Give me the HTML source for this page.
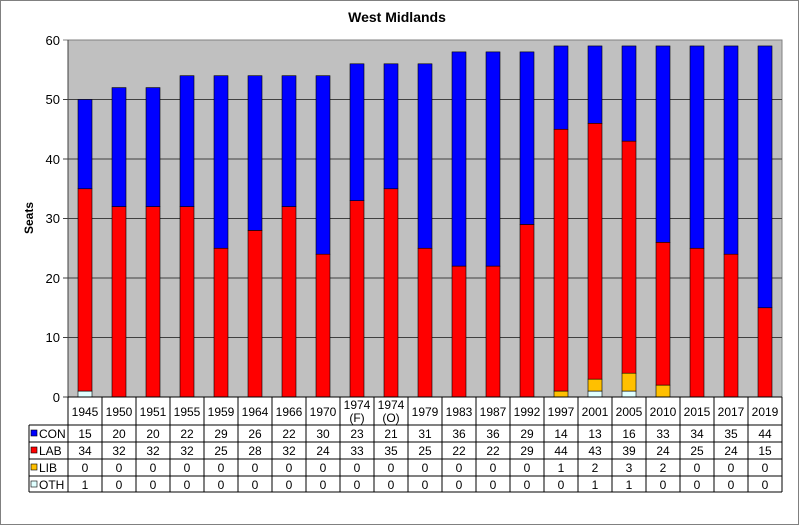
<!DOCTYPE html><html><head><style>body{margin:0;background:#fff}svg{display:block;font-family:"Liberation Sans",Arial,sans-serif}</style></head><body>
<svg width="800" height="527" viewBox="0 0 800 527">
<rect x="0.5" y="0.5" width="798" height="524" fill="#fff" stroke="#808080"/>
<text x="397" y="22" font-size="14" font-weight="bold" text-anchor="middle">West Midlands</text>
<text transform="translate(33,218) rotate(-90)" font-size="12" font-weight="bold" text-anchor="middle">Seats</text>
<rect x="68" y="40" width="714" height="357" fill="#c0c0c0" stroke="#808080"/>
<g stroke="#404040" stroke-width="1">
<line x1="63" y1="40" x2="782" y2="40" stroke="#808080"/><line x1="63" y1="99.5" x2="782" y2="99.5"/><line x1="63" y1="159" x2="782" y2="159"/><line x1="63" y1="218.5" x2="782" y2="218.5"/><line x1="63" y1="278" x2="782" y2="278"/><line x1="63" y1="337.5" x2="782" y2="337.5"/><line x1="63" y1="397" x2="68" y2="397"/><line x1="68" y1="40" x2="68" y2="397"/></g>
<g font-size="13" text-anchor="end"><text x="60" y="45">60</text><text x="60" y="104">50</text><text x="60" y="164">40</text><text x="60" y="223">30</text><text x="60" y="283">20</text><text x="60" y="342">10</text><text x="60" y="402">0</text></g>
<g stroke="#000" stroke-width="0.6">
<g fill="#e0ffff"><rect x="78" y="391.05" width="14" height="5.95"/><rect x="588" y="391.05" width="14" height="5.95"/><rect x="622" y="391.05" width="14" height="5.95"/></g>
<g fill="#ffc000"><rect x="554" y="391.05" width="14" height="5.95"/><rect x="588" y="379.15" width="14" height="11.9"/><rect x="622" y="373.2" width="14" height="17.85"/><rect x="656" y="385.1" width="14" height="11.9"/></g>
<g fill="#ff0000">
<rect x="78" y="188.75" width="14" height="202.3"/><rect x="112" y="206.6" width="14" height="190.4"/><rect x="146" y="206.6" width="14" height="190.4"/><rect x="180" y="206.6" width="14" height="190.4"/><rect x="214" y="248.25" width="14" height="148.75"/><rect x="248" y="230.4" width="14" height="166.6"/><rect x="282" y="206.6" width="14" height="190.4"/><rect x="316" y="254.2" width="14" height="142.8"/><rect x="350" y="200.65" width="14" height="196.35"/><rect x="384" y="188.75" width="14" height="208.25"/><rect x="418" y="248.25" width="14" height="148.75"/><rect x="452" y="266.1" width="14" height="130.9"/><rect x="486" y="266.1" width="14" height="130.9"/><rect x="520" y="224.45" width="14" height="172.55"/><rect x="554" y="129.25" width="14" height="261.8"/><rect x="588" y="123.3" width="14" height="255.85"/><rect x="622" y="141.15" width="14" height="232.05"/><rect x="656" y="242.3" width="14" height="142.8"/><rect x="690" y="248.25" width="14" height="148.75"/><rect x="724" y="254.2" width="14" height="142.8"/><rect x="758" y="307.75" width="14" height="89.25"/></g>
<g fill="#0000ff">
<rect x="78" y="99.5" width="14" height="89.25"/><rect x="112" y="87.6" width="14" height="119"/><rect x="146" y="87.6" width="14" height="119"/><rect x="180" y="75.7" width="14" height="130.9"/><rect x="214" y="75.7" width="14" height="172.55"/><rect x="248" y="75.7" width="14" height="154.7"/><rect x="282" y="75.7" width="14" height="130.9"/><rect x="316" y="75.7" width="14" height="178.5"/><rect x="350" y="63.8" width="14" height="136.85"/><rect x="384" y="63.8" width="14" height="124.95"/><rect x="418" y="63.8" width="14" height="184.45"/><rect x="452" y="51.9" width="14" height="214.2"/><rect x="486" y="51.9" width="14" height="214.2"/><rect x="520" y="51.9" width="14" height="172.55"/><rect x="554" y="45.95" width="14" height="83.3"/><rect x="588" y="45.95" width="14" height="77.35"/><rect x="622" y="45.95" width="14" height="95.2"/><rect x="656" y="45.95" width="14" height="196.35"/><rect x="690" y="45.95" width="14" height="202.3"/><rect x="724" y="45.95" width="14" height="208.25"/><rect x="758" y="45.95" width="14" height="261.8"/></g>
</g>
<g stroke="#000" stroke-width="1">
<line x1="68" y1="397" x2="782" y2="397"/>
<line x1="29" y1="425" x2="782" y2="425"/><line x1="29" y1="442" x2="782" y2="442"/><line x1="29" y1="459" x2="782" y2="459"/><line x1="29" y1="476" x2="782" y2="476"/><line x1="29" y1="492" x2="782" y2="492"/>
<line x1="29" y1="425" x2="29" y2="492"/>
<line x1="68" y1="397" x2="68" y2="492"/><line x1="102" y1="397" x2="102" y2="492"/><line x1="136" y1="397" x2="136" y2="492"/><line x1="170" y1="397" x2="170" y2="492"/><line x1="204" y1="397" x2="204" y2="492"/><line x1="238" y1="397" x2="238" y2="492"/><line x1="272" y1="397" x2="272" y2="492"/><line x1="306" y1="397" x2="306" y2="492"/><line x1="340" y1="397" x2="340" y2="492"/><line x1="374" y1="397" x2="374" y2="492"/><line x1="408" y1="397" x2="408" y2="492"/><line x1="442" y1="397" x2="442" y2="492"/><line x1="476" y1="397" x2="476" y2="492"/><line x1="510" y1="397" x2="510" y2="492"/><line x1="544" y1="397" x2="544" y2="492"/><line x1="578" y1="397" x2="578" y2="492"/><line x1="612" y1="397" x2="612" y2="492"/><line x1="646" y1="397" x2="646" y2="492"/><line x1="680" y1="397" x2="680" y2="492"/><line x1="714" y1="397" x2="714" y2="492"/><line x1="748" y1="397" x2="748" y2="492"/><line x1="782" y1="397" x2="782" y2="492"/>
</g>
<g stroke="#000" stroke-width="0.6"><rect x="31" y="430" width="6" height="6" fill="#0000ff"/><rect x="31" y="447" width="6" height="6" fill="#ff0000"/><rect x="31" y="464" width="6" height="6" fill="#ffc000"/><rect x="31" y="481" width="6" height="6" fill="#e0ffff"/></g>
<g font-size="12"><text x="39" y="438">CON</text><text x="39" y="455">LAB</text><text x="39" y="472">LIB</text><text x="39" y="489">OTH</text></g>
<g font-size="12" text-anchor="middle">
<text x="85" y="416">1945</text><text x="119" y="416">1950</text><text x="153" y="416">1951</text><text x="187" y="416">1955</text><text x="221" y="416">1959</text><text x="255" y="416">1964</text><text x="289" y="416">1966</text><text x="323" y="416">1970</text><text x="357" y="409">1974</text><text x="357" y="422">(F)</text><text x="391" y="409">1974</text><text x="391" y="422">(O)</text><text x="425" y="416">1979</text><text x="459" y="416">1983</text><text x="493" y="416">1987</text><text x="527" y="416">1992</text><text x="561" y="416">1997</text><text x="595" y="416">2001</text><text x="629" y="416">2005</text><text x="663" y="416">2010</text><text x="697" y="416">2015</text><text x="731" y="416">2017</text><text x="765" y="416">2019</text>
<text x="85" y="438">15</text><text x="119" y="438">20</text><text x="153" y="438">20</text><text x="187" y="438">22</text><text x="221" y="438">29</text><text x="255" y="438">26</text><text x="289" y="438">22</text><text x="323" y="438">30</text><text x="357" y="438">23</text><text x="391" y="438">21</text><text x="425" y="438">31</text><text x="459" y="438">36</text><text x="493" y="438">36</text><text x="527" y="438">29</text><text x="561" y="438">14</text><text x="595" y="438">13</text><text x="629" y="438">16</text><text x="663" y="438">33</text><text x="697" y="438">34</text><text x="731" y="438">35</text><text x="765" y="438">44</text>
<text x="85" y="455">34</text><text x="119" y="455">32</text><text x="153" y="455">32</text><text x="187" y="455">32</text><text x="221" y="455">25</text><text x="255" y="455">28</text><text x="289" y="455">32</text><text x="323" y="455">24</text><text x="357" y="455">33</text><text x="391" y="455">35</text><text x="425" y="455">25</text><text x="459" y="455">22</text><text x="493" y="455">22</text><text x="527" y="455">29</text><text x="561" y="455">44</text><text x="595" y="455">43</text><text x="629" y="455">39</text><text x="663" y="455">24</text><text x="697" y="455">25</text><text x="731" y="455">24</text><text x="765" y="455">15</text>
<text x="85" y="472">0</text><text x="119" y="472">0</text><text x="153" y="472">0</text><text x="187" y="472">0</text><text x="221" y="472">0</text><text x="255" y="472">0</text><text x="289" y="472">0</text><text x="323" y="472">0</text><text x="357" y="472">0</text><text x="391" y="472">0</text><text x="425" y="472">0</text><text x="459" y="472">0</text><text x="493" y="472">0</text><text x="527" y="472">0</text><text x="561" y="472">1</text><text x="595" y="472">2</text><text x="629" y="472">3</text><text x="663" y="472">2</text><text x="697" y="472">0</text><text x="731" y="472">0</text><text x="765" y="472">0</text>
<text x="85" y="489">1</text><text x="119" y="489">0</text><text x="153" y="489">0</text><text x="187" y="489">0</text><text x="221" y="489">0</text><text x="255" y="489">0</text><text x="289" y="489">0</text><text x="323" y="489">0</text><text x="357" y="489">0</text><text x="391" y="489">0</text><text x="425" y="489">0</text><text x="459" y="489">0</text><text x="493" y="489">0</text><text x="527" y="489">0</text><text x="561" y="489">0</text><text x="595" y="489">1</text><text x="629" y="489">1</text><text x="663" y="489">0</text><text x="697" y="489">0</text><text x="731" y="489">0</text><text x="765" y="489">0</text>
</g>
</svg>
</body></html>
